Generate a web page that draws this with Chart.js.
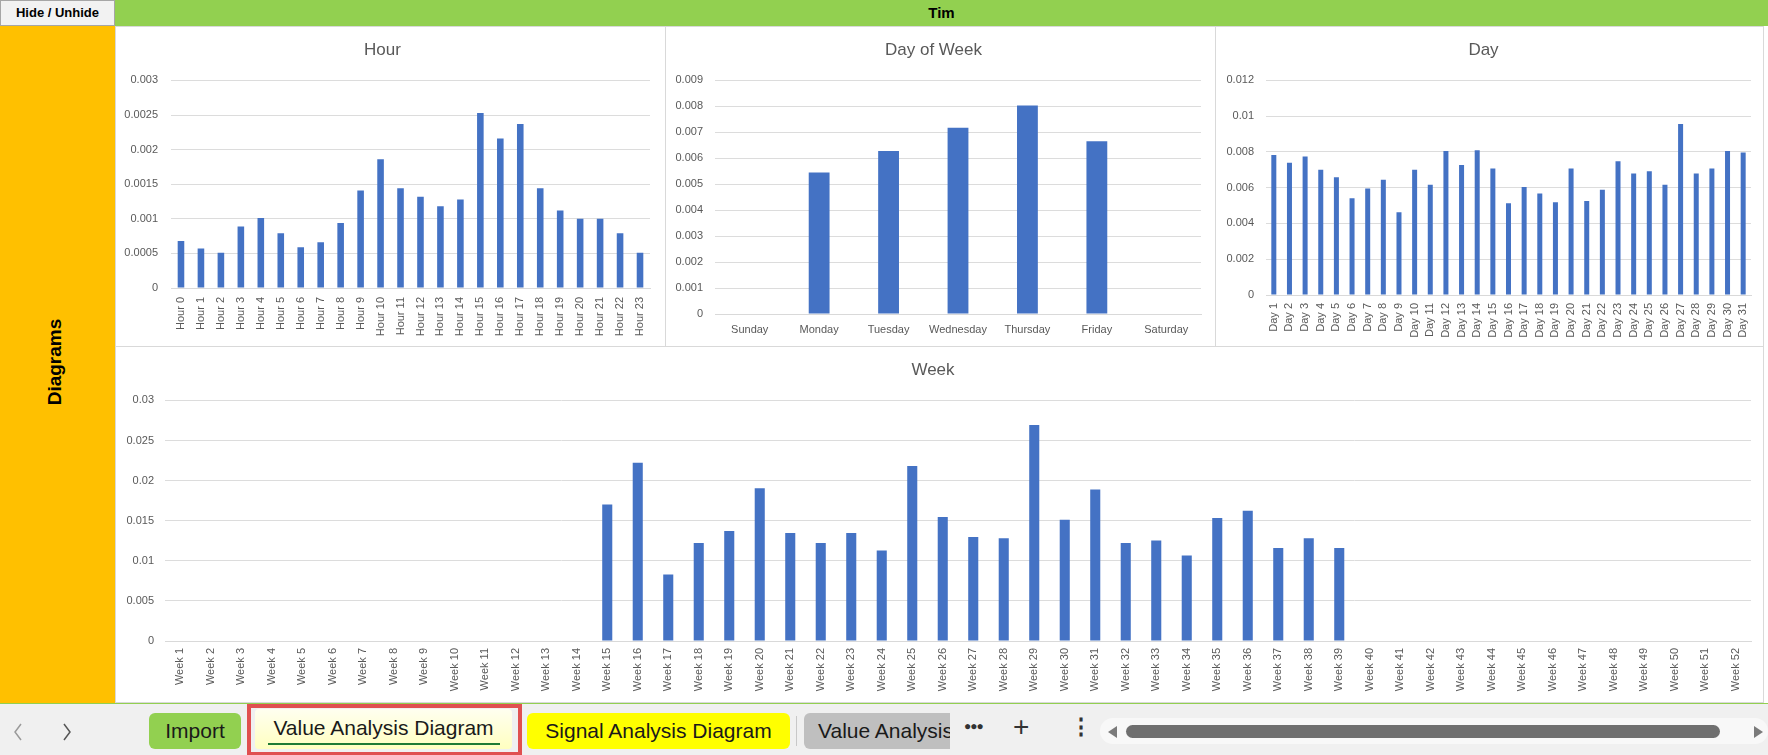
<!DOCTYPE html>
<html>
<head>
<meta charset="utf-8">
<script src="https://cdn.jsdelivr.net/npm/chart.js@4.4.1/dist/chart.umd.min.js"></script>
<style>
  html, body { margin: 0; padding: 0; }
  body { width: 1768px; height: 755px; position: relative; overflow: hidden; background: #fff; font-family: "Liberation Sans", Arial, sans-serif; }
  .abs { position: absolute; }
  #hideBtn { left: 0; top: 0; width: 113px; height: 24px; background: #f2f2f2; border: 1px solid #a6a6a6; font-weight: bold; font-size: 13px; line-height: 24px; text-align: center; color: #000; }
  #topBar { left: 115px; top: 0; width: 1653px; height: 26px; background: #92d050; font-weight: bold; font-size: 15px; line-height: 26px; text-align: center; color: #000; }
  #leftCol { left: 0; top: 26px; width: 115px; height: 677px; background: #ffc000; }
  #diagLabel { left: 55px; top: 362px; transform: translate(-50%, -50%) rotate(-90deg); font-weight: bold; font-size: 19px; color: #000; white-space: nowrap; }
  .panel { position: absolute; border: 1px solid #d9d9d9; box-sizing: border-box; background: #fff; }
  canvas { position: absolute; }
  #tabBar { left: 0; top: 703px; width: 1768px; height: 52px; background: #f0f0f0; border-top: 1px solid #92d050; box-sizing: border-box; }
  .tab { position: absolute; top: 9px; height: 36px; border-radius: 6px; font-size: 21px; line-height: 36px; color: #1a1a1a; white-space: nowrap; overflow: hidden; }
</style>
</head>
<body>
<div id="hideBtn" class="abs">Hide / Unhide</div>
<div id="topBar" class="abs">Tim</div>
<div id="leftCol" class="abs"></div>
<div id="diagLabel" class="abs">Diagrams</div>

<div class="panel" style="left:115px; top:26px; width:551px; height:321px;"></div>
<div class="panel" style="left:665px; top:26px; width:551px; height:321px;"></div>
<div class="panel" style="left:1215px; top:26px; width:549px; height:321px;"></div>
<div class="panel" style="left:115px; top:346px; width:1649px; height:357px;"></div>

<canvas id="hourChart" width="550" height="319" style="left:115px; top:26px;"></canvas>
<canvas id="dowChart" width="549" height="319" style="left:666px; top:26px;"></canvas>
<canvas id="dayChart" width="552" height="319" style="left:1216px; top:26px;"></canvas>
<canvas id="weekChart" width="1653" height="354" style="left:115px; top:347px;"></canvas>

<div id="tabBar" class="abs">
  <svg class="abs" style="left:10px; top:16px;" width="70" height="24">
    <polyline points="11,4 5,12 11,20" fill="none" stroke="#9a9a9a" stroke-width="1.5"/>
    <polyline points="54,4 60,12 54,20" fill="none" stroke="#555" stroke-width="1.5"/>
  </svg>
  <div class="tab" style="left:149px; width:92px; background:#92d050; text-align:center;">Import</div>
  <div class="abs" style="left:247px; top:0; width:275px; height:52px; border:4px solid #e05050; box-sizing:border-box;"></div>
  <div class="tab" style="left:255px; top:5px; width:257px; height:40px; line-height:38px; background:linear-gradient(#fffff0,#ffffc0); text-align:center; border-radius:4px;">Value Analysis Diagram</div>
  <div class="abs" style="left:268px; top:39px; width:232px; height:2px; background:#1e7b34;"></div>
  <div class="tab" style="left:527px; width:263px; background:#ffff00; text-align:center;">Signal Analysis Diagram</div>
  <div class="abs" style="left:796px; top:12px; width:1px; height:30px; background:#c8c8c8;"></div>
  <div class="tab" style="left:804px; width:146px; background:#bfbfbf; padding-left:14px; box-sizing:border-box; border-radius:6px 0 0 6px;">Value Analysis Diagram</div>
  <div class="abs" style="left:964px; top:15px; font-size:12px; color:#333; letter-spacing:-1px;">●●●</div>
  <div class="abs" style="left:1013px; top:7px; font-size:28px; color:#333;">+</div>
  <div class="abs" style="left:1070px; top:10px; font-size:22px; font-weight:bold; color:#333;">⋮</div>
  <div class="abs" style="left:1100px; top:14px; width:668px; height:26px; background:#f8f8f8; border-radius:13px;"></div>
  <svg class="abs" style="left:1104px; top:20px;" width="664" height="16">
    <polygon points="13,2 13,14 4,8" fill="#7a7a7a"/>
    <rect x="22" y="1" width="594" height="13" rx="6.5" fill="#6f6f6f"/>
    <polygon points="650,2 650,14 659,8" fill="#7a7a7a"/>
  </svg>
</div>

<script>
const FONT = "'Liberation Sans', Arial, sans-serif";

const hourLabels = ["Hour 0", "Hour 1", "Hour 2", "Hour 3", "Hour 4", "Hour 5", "Hour 6", "Hour 7", "Hour 8", "Hour 9", "Hour 10", "Hour 11",
  "Hour 12", "Hour 13", "Hour 14", "Hour 15", "Hour 16", "Hour 17", "Hour 18", "Hour 19", "Hour 20", "Hour 21", "Hour 22", "Hour 23"];
const hourValues = [0.00068, 0.00057, 0.00051, 0.00089, 0.00101, 0.00079, 0.00059, 0.00066, 0.00094, 0.00141, 0.00186, 0.00144,
  0.00132, 0.00118, 0.00128, 0.00253, 0.00216, 0.00237, 0.00144, 0.00112, 0.001, 0.001, 0.00079, 0.00051];

const dowLabels = ["Sunday", "Monday", "Tuesday", "Wednesday", "Thursday", "Friday", "Saturday"];
const dowValues = [null, 0.00545, 0.00628, 0.00718, 0.00803, 0.00666, null];

const dayLabels = ["Day 1", "Day 2", "Day 3", "Day 4", "Day 5", "Day 6", "Day 7", "Day 8", "Day 9", "Day 10", "Day 11", "Day 12", "Day 13",
  "Day 14", "Day 15", "Day 16", "Day 17", "Day 18", "Day 19", "Day 20", "Day 21", "Day 22", "Day 23", "Day 24", "Day 25", "Day 26",
  "Day 27", "Day 28", "Day 29", "Day 30", "Day 31"];
const dayValues = [0.00783, 0.0074, 0.00775, 0.007, 0.00659, 0.00541, 0.00596, 0.00644, 0.00463, 0.007, 0.00617, 0.00805, 0.00727,
  0.0081, 0.00707, 0.00513, 0.00604, 0.00567, 0.00519, 0.00707, 0.00526, 0.00589, 0.00748, 0.00679, 0.00692, 0.00617,
  0.00956, 0.00679, 0.00707, 0.00805, 0.00797];

const weekLabels = ["Week 1", "Week 2", "Week 3", "Week 4", "Week 5", "Week 6", "Week 7", "Week 8", "Week 9", "Week 10", "Week 11",
  "Week 12", "Week 13", "Week 14", "Week 15", "Week 16", "Week 17", "Week 18", "Week 19", "Week 20", "Week 21", "Week 22",
  "Week 23", "Week 24", "Week 25", "Week 26", "Week 27", "Week 28", "Week 29", "Week 30", "Week 31", "Week 32", "Week 33",
  "Week 34", "Week 35", "Week 36", "Week 37", "Week 38", "Week 39", "Week 40", "Week 41", "Week 42", "Week 43", "Week 44",
  "Week 45", "Week 46", "Week 47", "Week 48", "Week 49", "Week 50", "Week 51", "Week 52"];
const weekValues = [null, null, null, null, null, null, null, null, null, null, null, null, null, null,
  0.01702, 0.02223, 0.0083, 0.01223, 0.01372, 0.01905, 0.01347, 0.01223, 0.01347, 0.01128, 0.02182,
  0.01545, 0.01298, 0.01281, 0.02694, 0.01512, 0.01888, 0.01223, 0.01252, 0.01066, 0.01533, 0.01624,
  0.01161, 0.01281, 0.01161,
  null, null, null, null, null, null, null, null, null, null, null, null, null];

Chart.defaults.font.family = FONT;

const makeChart = (id, title, labels, values, o) => {
  const ctx = document.getElementById(id);
  new Chart(ctx, {
    type: "bar",
    data: {
      labels: labels,
      datasets: [{ data: values, backgroundColor: "#4472c4", barPercentage: o.bar, categoryPercentage: 1 }],
    },
    options: {
      responsive: false,
      animation: false,
      layout: { padding: { left: 0, right: o.right, top: 0, bottom: 0 } },
      plugins: {
        legend: { display: false },
        tooltip: { enabled: false },
        title: {
          display: true,
          text: title,
          color: "#595959",
          font: { size: 17, weight: "normal" },
          padding: { top: o.titleTop, bottom: 20 },
        },
      },
      scales: {
        x: {
          grid: { display: false, drawTicks: false },
          border: { color: "#d9d9d9" },
          ticks: {
            color: "#595959",
            font: { size: 11 },
            autoSkip: false,
            minRotation: o.rot,
            maxRotation: o.rot,
            padding: o.xpad,
          },
          afterFit: (s) => { s.height = o.xh; },
        },
        y: {
          min: 0,
          max: o.max,
          grid: { color: "#dcdcdc", drawTicks: false },
          border: { display: false },
          ticks: {
            stepSize: o.step,
            color: "#595959",
            font: { size: 11 },
            padding: o.ypad,
            callback: (v) => String(parseFloat(v.toFixed(6))),
          },
          afterFit: (s) => { s.width = o.yw; },
        },
      },
    },
  });
};

makeChart("hourChart", "Hour", hourLabels, hourValues,
  { max: 0.003, step: 0.0005, bar: 0.33, right: 15, rot: 90, xpad: 9, xh: 57, ypad: 13, yw: 56, titleTop: 14 });
makeChart("dowChart", "Day of Week", dowLabels, dowValues,
  { max: 0.009, step: 0.001, bar: 0.3, right: 14, rot: 0, xpad: 9, xh: 31, ypad: 12, yw: 49, titleTop: 14 });
makeChart("dayChart", "Day", dayLabels, dayValues,
  { max: 0.012, step: 0.002, bar: 0.32, right: 17, rot: 90, xpad: 8, xh: 50, ypad: 12, yw: 50, titleTop: 14 });
makeChart("weekChart", "Week", weekLabels, weekValues,
  { max: 0.03, step: 0.005, bar: 0.33, right: 17, rot: 90, xpad: 7, xh: 60, ypad: 11, yw: 50, titleTop: 13 });
</script>
</body>
</html>
